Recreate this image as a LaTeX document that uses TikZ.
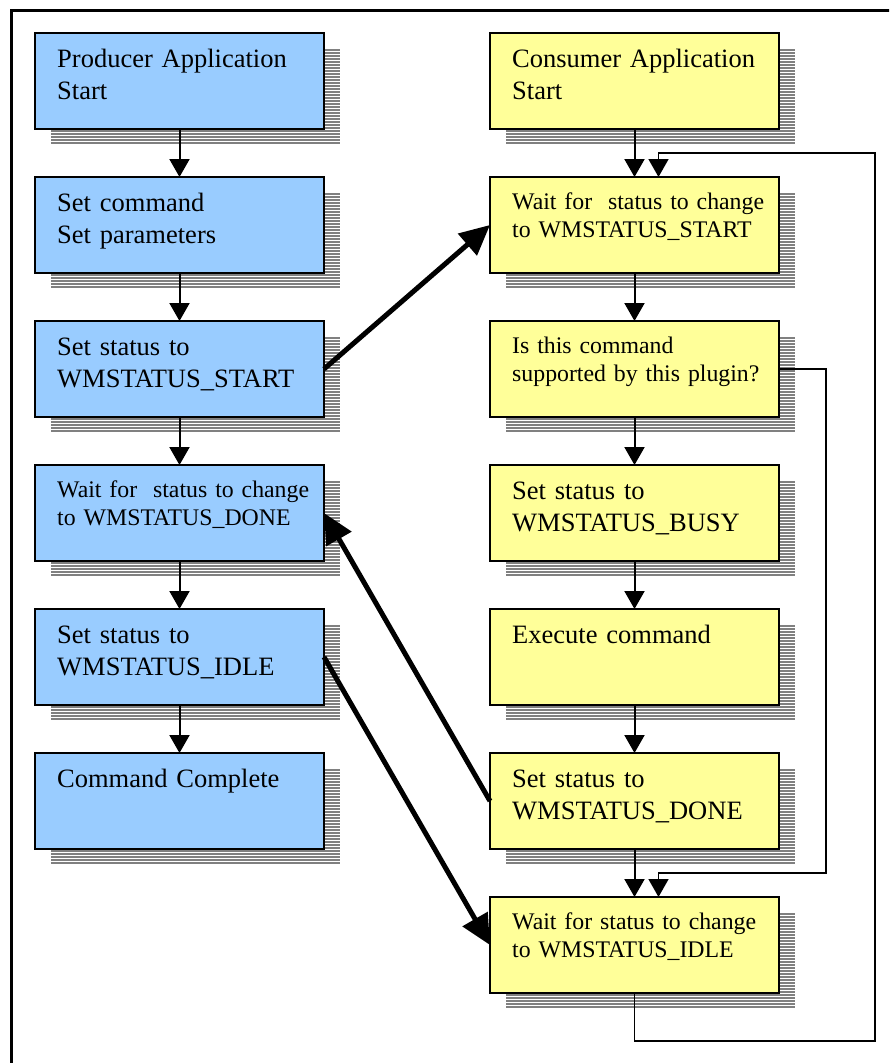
\documentclass[tikz,border=0pt]{standalone}
\usepackage{fontspec}
\setmainfont{Liberation Serif}
\usetikzlibrary{calc,arrows.meta}
\definecolor{pblue}{HTML}{99CCFF}
\definecolor{cyell}{HTML}{FFFF99}
\definecolor{shgray}{HTML}{808080}
\tikzset{
 shadowline/.style={draw=shgray, line width=2pt},
 boxbase/.style={draw=black, line width=2pt, minimum width=289pt, minimum height=96pt, inner sep=0pt, outer sep=0pt},
 pbox/.style={boxbase, fill=pblue},
 cbox/.style={boxbase, fill=cyell},
 bigtext/.style={font=\fontsize{26.5}{32}\selectfont, text width=275pt, align=left, inner sep=0pt},
 smalltext/.style={font=\fontsize{23.8}{28}\selectfont, text width=275pt, align=left, inner sep=0pt},
 flow/.style={line width=2pt, -{Triangle[length=18pt,width=20pt]}},
 loopline/.style={line width=1.6pt, -{Triangle[length=18pt,width=20pt]}},
 signal/.style={line width=5pt, -{Triangle[length=30pt,width=28pt]}},
 frameline/.style={line width=3pt},
}
\newcommand\flowstep[7]{%
  \foreach \k in {0,...,31}{\draw[shadowline] ({#2+16},{#3+17+3*\k}) -- ({#2+16+289},{#3+17+3*\k});}
  \node[#4, anchor=north west] (#1) at (#2,#3) {};
  \node[#5, anchor=base west] (#1-t) at ($(#1.north west)+(22,#6)$) {#7};
}
\begin{document}
\begin{tikzpicture}[x=1pt,y=-1pt]
\useasboundingbox (0,0) rectangle (889,1063);
\clip (0,0) rectangle (889,1063);
\draw[frameline] (11,1080) -- (11,10) -- (900,10);
% producer column
\flowstep{p1}{35}{33}{pbox}{bigtext}{34}{Producer Application\\Start}
\flowstep{p2}{35}{177}{pbox}{bigtext}{34}{Set command\\Set parameters}
\flowstep{p3}{35}{321}{pbox}{bigtext}{34}{Set status to\\WMSTATUS\_START}
\flowstep{p4}{35}{465}{pbox}{smalltext}{32}{Wait for\ \ status to change\\to WMSTATUS\_DONE}
\flowstep{p5}{35}{609}{pbox}{bigtext}{34}{Set status to\\WMSTATUS\_IDLE}
\flowstep{p6}{35}{753}{pbox}{bigtext}{34}{Command Complete}
% consumer column
\flowstep{c1}{490}{33}{cbox}{bigtext}{34}{Consumer Application\\Start}
\flowstep{c2}{490}{177}{cbox}{smalltext}{32}{Wait for\ \ status to change\\to WMSTATUS\_START}
\flowstep{c3}{490}{321}{cbox}{smalltext}{32}{Is this command\\supported by this plugin?}
\flowstep{c4}{490}{465}{cbox}{bigtext}{34}{Set status to\\WMSTATUS\_BUSY}
\flowstep{c5}{490}{609}{cbox}{bigtext}{34}{Execute command}
\flowstep{c6}{490}{753}{cbox}{bigtext}{34}{Set status to\\WMSTATUS\_DONE}
\flowstep{c7}{490}{897}{cbox}{smalltext}{32}{Wait for status to change\\to WMSTATUS\_IDLE}
% flow arrows
\draw[flow] (p1.south) -- (p2.north);
\draw[flow] (p2.south) -- (p3.north);
\draw[flow] (p3.south) -- (p4.north);
\draw[flow] (p4.south) -- (p5.north);
\draw[flow] (p5.south) -- (p6.north);
\draw[flow] (c1.south) -- (c2.north);
\draw[flow] (c2.south) -- (c3.north);
\draw[flow] (c3.south) -- (c4.north);
\draw[flow] (c4.south) -- (c5.north);
\draw[flow] (c5.south) -- (c6.north);
\draw[flow] (c6.south) -- (c7.north);
% loops
\coordinate (c2in) at ($(c2.north)+(24,0)$);
\coordinate (c7in) at ($(c7.north)+(24,0)$);
\coordinate (loopA) at (875,1041);
\coordinate (loopB) at (875,153);
\coordinate (loopC) at (826,873);
\draw[loopline] (c7.south) |- (loopA) -- (loopB) -| (c2in);
\draw[loopline] (c3.east) -| (loopC) -| (c7in);
% signals between applications
\draw[signal] (p3.east) -- (c2.west);
\draw[signal] (c6.west) -- (p4.east);
\draw[signal] (p5.east) -- (c7.west);
\end{tikzpicture}
\end{document}
